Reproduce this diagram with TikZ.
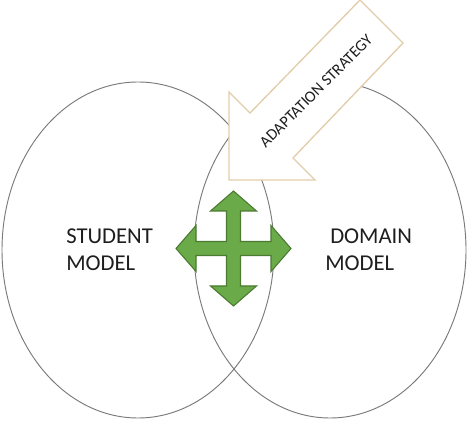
\documentclass[tikz,border=0pt]{standalone}
\usepackage{fontspec}
\setmainfont{Carlito}
\definecolor{ringgray}{HTML}{7A7A7A}
\definecolor{tanline}{HTML}{E2CDAA}
\definecolor{arrowgreen}{HTML}{6AAA48}
\definecolor{arrowedge}{HTML}{4B7A31}
\definecolor{textdark}{HTML}{1E1E1E}
\begin{document}
\begin{tikzpicture}[x=0.75pt,y=-0.75pt,
  ring/.style={draw=ringgray,line width=0.7pt},
  bigarrow/.style={draw=tanline,fill=white,line width=1pt,line join=miter},
  moveicon/.style={draw=arrowedge,fill=arrowgreen,line width=0.8pt,line join=miter},
  modeltext/.style={inner sep=0pt,anchor=base west,font=\fontsize{17}{20}\selectfont,text=textdark},
  striptext/.style={inner sep=0pt,font=\fontsize{12}{14}\selectfont,text=textdark,rotate=45}]
\useasboundingbox (0,0) rectangle (474,423);
\fill[white] (0,0) rectangle (474,423);
% two overlapping ellipses
\draw[ring] (138,250) ellipse [x radius=102pt, y radius=126pt];
\draw[ring] (330,250) ellipse [x radius=102pt, y radius=126pt];
% adaptation strategy block arrow
\draw[bigarrow] (360,0) -- (403,43) -- (293,158) -- (315,180) -- (229,180) -- (229,92) -- (250,113) -- cycle;
\node[striptext] (strategy) at (316,91) {ADAPTATION STRATEGY};
% four-way green arrow
\begin{scope}[shift={(233.5,248.5)}]
\def\a{7}\def\h{23}\def\b{37.5}\def\t{57.5}
\draw[moveicon] (0,-\t) -- (\h,-\b) -- (\a,-\b) -- (\a,-\a) -- (\b,-\a) -- (\b,-\h) -- (\t,0)
  -- (\b,\h) -- (\b,\a) -- (\a,\a) -- (\a,\b) -- (\h,\b) -- (0,\t)
  -- (-\h,\b) -- (-\a,\b) -- (-\a,\a) -- (-\b,\a) -- (-\b,\h) -- (-\t,0)
  -- (-\b,-\h) -- (-\b,-\a) -- (-\a,-\a) -- (-\a,-\b) -- (-\h,-\b) -- cycle;
\end{scope}
% labels
\node[modeltext] (student1) at (66,243.5) {STUDENT};
\node[modeltext] (student2) at (66,270.5) {MODEL};
\node[modeltext] (domain1) at (330,243.5) {DOMAIN};
\node[modeltext] (domain2) at (325,270.5) {MODEL};
\end{tikzpicture}
\end{document}
